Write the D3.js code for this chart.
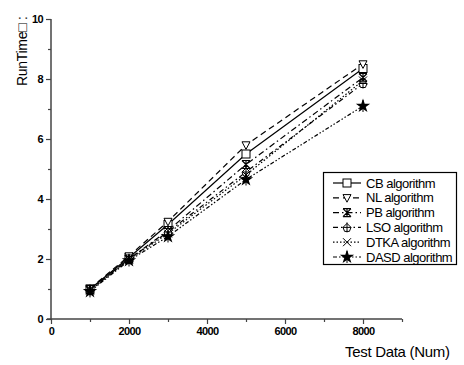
<!DOCTYPE html>
<html>
<head>
<meta charset="utf-8">
<script src="https://cdn.jsdelivr.net/npm/d3@7"></script>
<style>
  body { margin: 0; background: #fff; }
  svg { display: block; font-family: "Liberation Sans", Arial, sans-serif; }
</style>
</head>
<body>
<svg id="chart" width="464" height="365"></svg>
<script>
// data
var testData = [1000, 2000, 3000, 5000, 8000];
var seriesNames = ['CB algorithm', 'NL algorithm', 'PB algorithm', 'LSO algorithm', 'DTKA algorithm', 'DASD algorithm'];
var cbValues   = [1.00, 2.05, 3.15, 5.50, 8.35];
var nlValues   = [1.02, 2.10, 3.25, 5.80, 8.50];
var pbValues   = [0.98, 2.00, 2.95, 5.15, 8.05];
var lsoValues  = [0.95, 2.00, 2.90, 4.90, 7.85];
var dtkaValues = [0.95, 1.98, 2.85, 4.80, 7.95];
var dasdValues = [0.92, 1.95, 2.75, 4.65, 7.10];
var xTicks = [0, 2000, 4000, 6000, 8000];
var yTicks = [0, 2, 4, 6, 8, 10];

var allValues = [cbValues, nlValues, pbValues, lsoValues, dtkaValues, dasdValues];
var dashes = [null, '6,4', '6,3,1.5,3', '5,3,1.5,3', '1.5,2', '4,2,1.5,2,1.5,2'];
var marks = ['square', 'tri', 'pb', 'lso', 'cross', 'star'];

var svg = d3.select('#chart');
var x = d3.scaleLinear().domain([0, 9000]).range([51, 402]);
var y = d3.scaleLinear().domain([0, 10]).range([319, 19]);

// axes
var axisColor = '#444';
svg.append('line')
    .attr('x1', 47).attr('x2', x(9000))
    .attr('y1', y(0)).attr('y2', y(0))
    .attr('stroke', axisColor).attr('stroke-width', 1.5);
svg.append('line')
    .attr('x1', x(0)).attr('x2', x(0))
    .attr('y1', y(0)).attr('y2', y(10))
    .attr('stroke', axisColor).attr('stroke-width', 1.5);

var xAx = svg.append('g')
    .attr('transform', 'translate(0,' + y(0) + ')')
    .call(d3.axisBottom(x).tickValues(xTicks).tickSize(5).tickPadding(3).tickFormat(d3.format('d')));
xAx.select('.domain').remove();
var xMinor = svg.append('g')
    .attr('transform', 'translate(0,' + y(0) + ')')
    .call(d3.axisBottom(x).tickValues([1000, 3000, 5000, 7000, 9000]).tickSize(3).tickFormat(''));
xMinor.select('.domain').remove();

var yAx = svg.append('g')
    .attr('transform', 'translate(' + x(0) + ',0)')
    .call(d3.axisLeft(y).tickValues(yTicks).tickSize(5).tickPadding(3));
yAx.select('.domain').remove();
var yMinor = svg.append('g')
    .attr('transform', 'translate(' + x(0) + ',0)')
    .call(d3.axisLeft(y).tickValues([1, 3, 5, 7, 9]).tickSize(3).tickFormat(''));
yMinor.select('.domain').remove();

svg.selectAll('.tick line').attr('stroke', axisColor).attr('stroke-width', 1.2);
svg.selectAll('.tick text')
    .attr('fill', '#000')
    .style('font-family', '"Liberation Sans", Arial, sans-serif')
    .style('font-size', '11px')
    .style('font-weight', 'bold')
    .style('letter-spacing', '-0.6px');

// axis titles
svg.append('text')
    .attr('transform', 'translate(27,86) rotate(-90)')
    .attr('font-size', 14)
    .attr('letter-spacing', '-0.3')
    .text('RunTime\u25A1 :');
svg.append('text')
    .attr('x', 345).attr('y', 357)
    .attr('font-size', 15)
    .attr('letter-spacing', '-0.3')
    .text('Test Data (Num)');

// marker drawing
function drawMark(g, kind, s) {
    if (kind === 'square') {
        g.append('rect').attr('x', -s).attr('y', -s).attr('width', 2 * s).attr('height', 2 * s)
            .attr('fill', '#fff').attr('stroke', '#000').attr('stroke-width', 1);
    } else if (kind === 'tri') {
        g.append('path').attr('d', 'M' + (-s) + ',' + (-s * 0.8) + 'L' + s + ',' + (-s * 0.8) + 'L0,' + (s * 1.1) + 'Z')
            .attr('fill', '#fff').attr('stroke', '#000').attr('stroke-width', 1);
    } else if (kind === 'pb') {
        g.append('path').attr('d', 'M' + (-s) + ',' + (-s) + 'L' + s + ',' + s + 'M' + s + ',' + (-s) + 'L' + (-s) + ',' + s +
            'M' + (-s) + ',' + (-s) + 'L' + s + ',' + (-s) + 'M' + (-s) + ',' + s + 'L' + s + ',' + s +
            'M0,' + (-s) + 'L0,' + s)
            .attr('fill', 'none').attr('stroke', '#000').attr('stroke-width', 1.2);
    } else if (kind === 'lso') {
        g.append('path').attr('d', 'M0,' + (-s) + 'L' + s + ',0L' + (s * 0.6) + ',' + s + 'L' + (-s * 0.6) + ',' + s + 'L' + (-s) + ',0Z')
            .attr('fill', '#fff').attr('stroke', '#000').attr('stroke-width', 1);
        g.append('path').attr('d', 'M0,' + (-s - 1) + 'L0,' + (s + 1) + 'M' + (-s) + ',0L' + s + ',0')
            .attr('stroke', '#000').attr('stroke-width', 1);
    } else if (kind === 'cross') {
        g.append('path').attr('d', 'M' + (-s) + ',' + (-s) + 'L' + s + ',' + s + 'M' + s + ',' + (-s) + 'L' + (-s) + ',' + s)
            .attr('fill', 'none').attr('stroke', '#000').attr('stroke-width', 1);
    } else if (kind === 'star') {
        g.append('path').attr('d', d3.symbol().type(d3.symbolStar).size(s * s * 4)())
            .attr('fill', '#000');
        g.append('path').attr('d', 'M0,' + (-s - 2) + 'L0,' + (s + 2))
            .attr('stroke', '#000').attr('stroke-width', 1);
    }
}

// series lines and markers
var line = d3.line()
    .x(function(d, i) { return x(testData[i]); })
    .y(function(d) { return y(d); });

allValues.forEach(function(vals, k) {
    svg.append('path')
        .datum(vals)
        .attr('fill', 'none')
        .attr('stroke', '#000')
        .attr('stroke-width', 1.2)
        .attr('stroke-dasharray', dashes[k])
        .attr('d', line);
});
allValues.forEach(function(vals, k) {
    vals.forEach(function(v, i) {
        var g = svg.append('g').attr('transform', 'translate(' + x(testData[i]) + ',' + y(v) + ')');
        drawMark(g, marks[k], 4);
    });
});

// legend
var lg = svg.append('g');
lg.append('rect')
    .attr('x', 323.5).attr('y', 172.5).attr('width', 133).attr('height', 92)
    .attr('fill', '#fff').attr('stroke', '#000').attr('stroke-width', 1.2);
seriesNames.forEach(function(name, k) {
    var yy = 183 + k * 14.8;
    lg.append('line')
        .attr('x1', 333).attr('x2', 361).attr('y1', yy).attr('y2', yy)
        .attr('stroke', '#000').attr('stroke-width', 1.2)
        .attr('stroke-dasharray', dashes[k]);
    var g = lg.append('g').attr('transform', 'translate(347,' + yy + ')');
    drawMark(g, marks[k], 4);
    lg.append('text')
        .attr('x', 366).attr('y', yy + 4.5)
        .attr('font-size', 13)
        .attr('letter-spacing', '-0.5')
        .text(name);
});
</script>
</body>
</html>
